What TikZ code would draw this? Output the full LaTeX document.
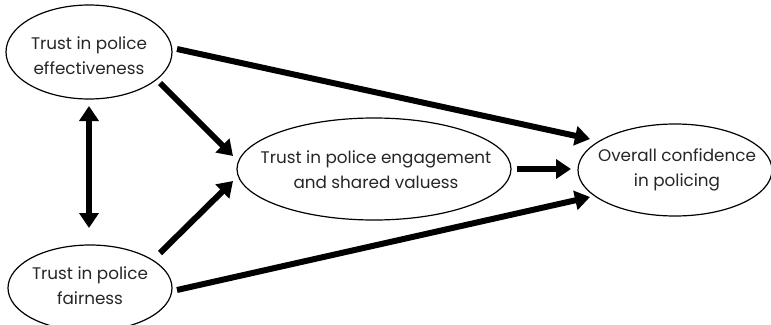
\documentclass[tikz,border=0pt]{standalone}
\usepackage{fontspec}
\setmainfont{Poppins}
\usetikzlibrary{arrows.meta}
\begin{document}
\begin{tikzpicture}[x=1pt,y=-1pt,
  lbl/.style={align=center,font=\fontsize{16.8}{25}\selectfont,text=black!85},
  thick arrow/.style={line width=6pt,-{Triangle[length=15pt,width=19pt]}},
  both arrow/.style={line width=6pt,{Triangle[length=15pt,width=19pt]}-{Triangle[length=15pt,width=19pt]}}]
\useasboundingbox (0,0) rectangle (771,324);
\begin{scope}
\clip (0,0) rectangle (771,324);
\draw[line width=1.2pt] (89,52) ellipse [x radius=83, y radius=47];
\draw[line width=1.2pt] (90,288) ellipse [x radius=82, y radius=43];
\draw[line width=1.2pt] (374,169) ellipse [x radius=137, y radius=51];
\draw[line width=1.2pt] (675,170) ellipse [x radius=97, y radius=46];
\end{scope}
\node[lbl] (eff) at (89,56) {Trust in police\\effectiveness};
\node[lbl] (fair) at (90,286) {Trust in police\\fairness};
\node[lbl] (eng) at (376,170) {Trust in police engagement\\and shared valuess};
\node[lbl] (conf) at (677,170) {Overall confidence\\in policing};
\coordinate (a1) at (177,49);
\coordinate (a2) at (590,139);
\coordinate (b1) at (160,83);
\coordinate (b2) at (233,156);
\coordinate (c1) at (160,253);
\coordinate (c2) at (233,181);
\coordinate (d1) at (177,290);
\coordinate (d2) at (590,197);
\coordinate (e1) at (517,169);
\coordinate (e2) at (571,169);
\coordinate (f1) at (89,106);
\coordinate (f2) at (89,228);
\draw[thick arrow] (a1) -- (a2);
\draw[thick arrow] (b1) -- (b2);
\draw[thick arrow] (c1) -- (c2);
\draw[thick arrow] (d1) -- (d2);
\draw[thick arrow] (e1) -- (e2);
\draw[both arrow] (f1) -- (f2);
\end{tikzpicture}
\end{document}
